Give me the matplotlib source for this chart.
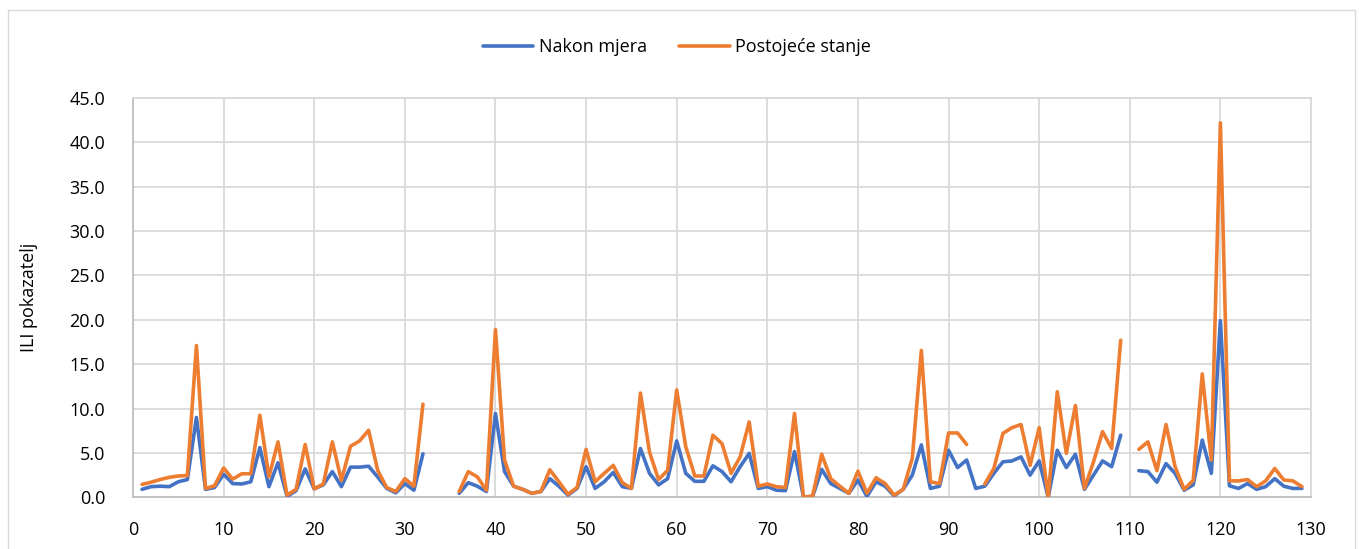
import numpy as np
import matplotlib
matplotlib.use("Agg")
import matplotlib.pyplot as plt
from matplotlib.patches import Rectangle

nan = np.nan

days = list(range(1, 130))

nakon_mjera = [
    0.9, 1.2, 1.25, 1.2, 1.75, 2.0, 9.0, 0.9, 1.1, 2.6,
    1.55, 1.5, 1.75, 5.6, 1.2, 3.9, 0.1, 0.75, 3.2, 0.95,
    1.4, 2.9, 1.2, 3.4, 3.4, 3.5, 2.3, 1.0, 0.5, 1.55,
    0.8, 4.9, nan, nan, nan, 0.45, 1.65, 1.25, 0.65, 9.45,
    2.9, 1.25, 0.9, 0.45, 0.65, 2.1, 1.25, 0.25, 1.0, 3.45,
    1.0, 1.75, 2.8, 1.2, 1.0, 5.5, 2.7, 1.4, 2.1, 6.35,
    2.7, 1.8, 1.8, 3.55, 2.9, 1.75, 3.45, 4.95, 1.0, 1.2,
    0.8, 0.75, 5.15, 0.0, 0.1, 3.15, 1.55, 1.0, 0.45, 1.95,
    0.1, 1.75, 1.25, 0.15, 0.9, 2.5, 5.9, 1.0, 1.25, 5.3,
    3.35, 4.2, 1.0, 1.25, 2.7, 4.0, 4.1, 4.55, 2.5, 4.1,
    0.0, 5.3, 3.35, 4.85, 0.9, 2.5, 4.1, 3.45, 7.0, nan,
    3.0, 2.9, 1.7, 3.8, 2.7, 0.8, 1.4, 6.45, 2.7, 19.9,
    1.3, 1.0, 1.55, 0.9, 1.2, 2.1, 1.25, 1.0, 1.0,
]

postojece_stanje = [
    1.45, 1.7, 2.0, 2.25, 2.4, 2.45, 17.1, 1.0, 1.3, 3.3,
    2.05, 2.65, 2.65, 9.25, 2.3, 6.25, 0.25, 0.9, 5.95, 0.95,
    1.5, 6.25, 1.9, 5.75, 6.35, 7.55, 3.05, 1.1, 0.65, 2.1,
    1.25, 10.5, nan, nan, nan, 0.65, 2.9, 2.3, 0.8, 18.9,
    4.2, 1.25, 0.9, 0.45, 0.65, 3.1, 1.75, 0.35, 1.1, 5.4,
    1.75, 2.7, 3.6, 1.65, 1.0, 11.75, 5.1, 2.0, 3.05, 12.1,
    5.7, 2.4, 2.4, 7.0, 6.05, 2.7, 4.55, 8.5, 1.25, 1.5,
    1.2, 1.1, 9.45, 0.0, 0.15, 4.85, 2.1, 1.25, 0.45, 2.95,
    0.45, 2.2, 1.55, 0.25, 0.9, 4.4, 16.55, 1.75, 1.55, 7.25,
    7.25, 5.95, nan, 1.5, 3.25, 7.2, 7.85, 8.2, 3.6, 7.85,
    0.0, 11.9, 4.95, 10.35, 1.0, 4.0, 7.4, 5.5, 17.7, nan,
    5.4, 6.25, 3.0, 8.2, 3.45, 0.9, 1.9, 13.9, 4.2, 42.2,
    1.85, 1.85, 2.0, 1.2, 1.85, 3.25, 1.95, 1.85, 1.2,
]

series_labels = ["Nakon mjera", "Postojeće stanje"]
x_ticks = list(range(0, 131, 10))
y_ticks = [0, 5, 10, 15, 20, 25, 30, 35, 40, 45]
y_label = "ILI pokazatelj"

plt.rcParams["font.family"] = ["Open Sans", "DejaVu Sans"]

W, H = 1359, 549
fig = plt.figure(figsize=(W / 100, H / 100), dpi=100)

# chart frame
fig.patches.append(Rectangle((8 / W, -0.05), (1355 - 8) / W, (H - 10) / H + 0.05,
                             transform=fig.transFigure, fill=False,
                             edgecolor="#d9d9d9", linewidth=1.0))

left, right, top, bottom = 133, 1311, 98, 497.3
ax = fig.add_axes([left / W, (H - bottom) / H, (right - left) / W, (bottom - top) / H])

line_kw = dict(linewidth=2.6, solid_joinstyle="round", solid_capstyle="round")
ax.plot(days, nakon_mjera, color="#4472C4", label=series_labels[0], zorder=3, **line_kw)
ax.plot(days, postojece_stanje, color="#ED7D31", label=series_labels[1], zorder=4, **line_kw)

ax.set_xlim(0, 130)
ax.set_ylim(0, 45)
ax.set_xticks(x_ticks)
ax.set_yticks(y_ticks)
ax.set_yticklabels([f"{v:.1f}" for v in y_ticks])
ax.tick_params(axis="both", length=0, labelsize=13, colors="#000000")
ax.tick_params(axis="y", pad=20)
ax.tick_params(axis="x", pad=17)

ax.grid(True, color="#d9d9d9", linewidth=1.3)
ax.set_axisbelow(True)
for side in ["top", "right"]:
    ax.spines[side].set_color("#d9d9d9")
    ax.spines[side].set_linewidth(1.3)
for side in ["left", "bottom"]:
    ax.spines[side].set_color("#bfbfbf")
    ax.spines[side].set_linewidth(1.3)

ax.set_ylabel(y_label, fontsize=13, labelpad=12)
ax.yaxis.set_label_coords((38 - left) / (right - left), 0.5)

fig.legend(loc="center", bbox_to_anchor=(677 / W, 1 - 47 / H), ncol=2,
           frameon=False, fontsize=13, handlelength=2.8, handletextpad=0.3,
           columnspacing=1.8)

fig.savefig("out.png", dpi=100)
